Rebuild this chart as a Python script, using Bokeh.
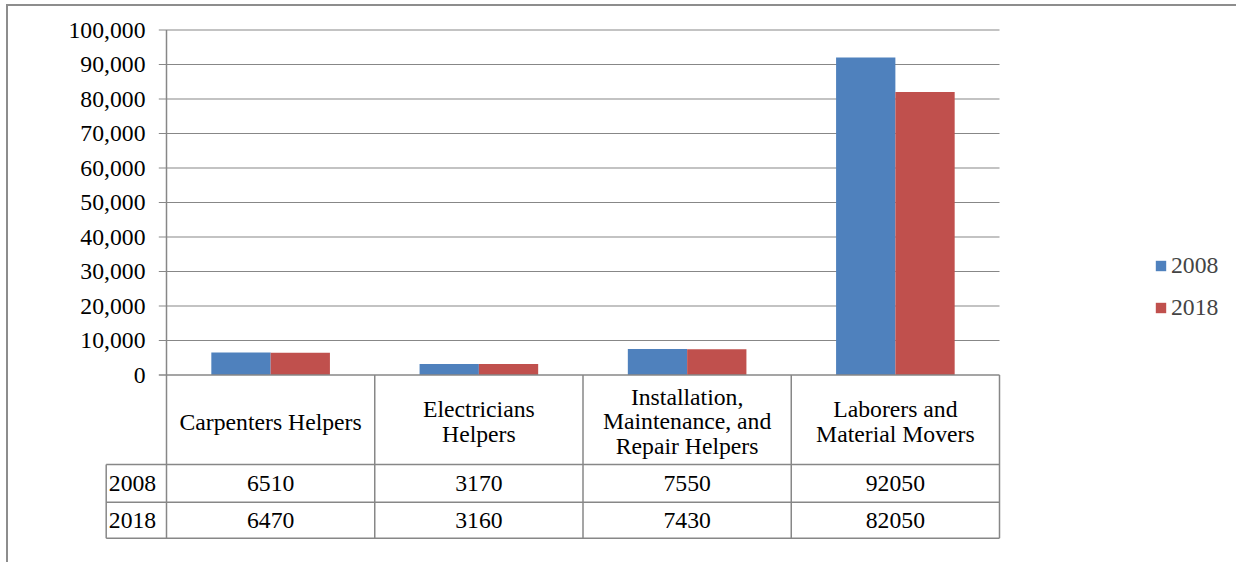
from bokeh.plotting import figure
from bokeh.models import Range1d, FixedTicker, NumeralTickFormatter, Legend, LegendItem
from bokeh.core.properties import value
from bokeh.embed import file_html
from bokeh.resources import INLINE

# ---- data ----
categories = ["Carpenters Helpers", "Electricians Helpers",
              "Installation, Maintenance, and Repair Helpers", "Laborers and Material Movers"]
category_labels = ["Carpenters Helpers", "Electricians\nHelpers",
                   "Installation,\nMaintenance, and\nRepair Helpers", "Laborers and\nMaterial Movers"]
series = ["2008", "2018"]
values_2008 = [6510, 3170, 7550, 92050]
values_2018 = [6470, 3160, 7430, 82050]
y_ticks = [0, 10000, 20000, 30000, 40000, 50000, 60000, 70000, 80000, 90000, 100000]

# ---- layout constants (pixels on the page) ----
W, H = 1230, 558
ORIGIN_X = 8         # page offset of canvas (6px margin + 2px border)
ORIGIN_Y = 6         # (4px margin + 2px border)
FRAME_LEFT = 103
X0 = 166.0           # x of value axis
CAT = 208.25         # width of one category
Y0 = 374.5           # y of zero line
PPU = 345.0 / 100000 # pixels per unit
BAR_W = 59.3 / CAT

def dx(px):
    return (px - X0) / CAT

def dy(py):
    return (Y0 - py) / PPU

BLUE = "#4F81BD"
RED = "#C0504D"
GRID = "#878787"
FONT = "Liberation Serif"
FS = "23.7px"

p = figure(width=W, height=H,
           x_range=Range1d(dx(FRAME_LEFT), dx(ORIGIN_X + W)),
           y_range=Range1d(dy(ORIGIN_Y + H), dy(ORIGIN_Y)),
           x_axis_location=None,
           min_border_left=FRAME_LEFT - ORIGIN_X, min_border_right=0,
           min_border_top=0, min_border_bottom=0,
           output_backend="svg", toolbar_location=None)
p.styles = {"border-top": "2px solid #8d8d8d", "border-left": "2px solid #8d8d8d",
            "margin-left": "6px", "margin-top": "4px"}
p.outline_line_color = None
p.xgrid.grid_line_color = None
p.ygrid.grid_line_color = None
p.background_fill_color = "white"
p.border_fill_color = "white"

ax = p.yaxis[0]
ax.ticker = FixedTicker(ticks=y_ticks)
ax.formatter = NumeralTickFormatter(format="0,0")
ax.axis_line_color = None
ax.major_tick_line_color = None
ax.minor_tick_line_color = None
ax.major_tick_out = 0
ax.major_tick_in = 0
ax.major_label_standoff = -(145 - FRAME_LEFT)
ax.major_label_text_font = FONT
ax.major_label_text_font_size = FS
ax.major_label_text_color = "black"

n = len(categories)
centers = [i + 0.5 for i in range(n)]
tick_x0 = dx(158.3)

# gridlines (non-zero)
gt = [t for t in y_ticks if t != 0]
p.segment(x0=[tick_x0] * len(gt), x1=[n] * len(gt), y0=gt, y1=gt,
          line_color=GRID, line_width=1)

# bars
r1 = p.vbar(x=[c - BAR_W / 2 for c in centers], top=values_2008, bottom=0, width=BAR_W,
            fill_color=BLUE, line_color=None)
r2 = p.vbar(x=[c + BAR_W / 2 for c in centers], top=values_2018, bottom=0, width=BAR_W,
            fill_color=RED, line_color=None)

# zero line & value axis line
p.segment(x0=[tick_x0], x1=[n], y0=[0], y1=[0], line_color=GRID, line_width=1.5)
table_bottom = dy(537.7)
row1_top = dy(464)
row2_top = dy(501.7)
table_left = dx(105.7)
p.segment(x0=[0], x1=[0], y0=[table_bottom], y1=[100000], line_color=GRID, line_width=1.5)

# data table grid
hy = [row1_top, row2_top, table_bottom]
p.segment(x0=[table_left] * 3, x1=[n] * 3, y0=hy, y1=hy, line_color=GRID, line_width=1.5)
vx = list(range(1, n + 1))
p.segment(x0=vx, x1=vx, y0=[table_bottom] * n, y1=[0] * n, line_color=GRID, line_width=1.5)
p.segment(x0=[table_left], x1=[table_left], y0=[table_bottom], y1=[row1_top],
          line_color=GRID, line_width=1.5)

# table texts
p.text(x=centers, y=[dy(421)] * n, text=category_labels, text_font=value(FONT),
       text_font_size=FS, text_align="center", text_baseline="middle",
       text_line_height=0.95, text_color="black")
row_y = [dy(482.9), dy(519.7)]
for vals, ry, name in zip([values_2008, values_2018], row_y, series):
    p.text(x=centers, y=[ry] * n, text=[str(v) for v in vals], text_font=value(FONT),
           text_font_size=FS, text_align="center", text_baseline="middle", text_color="black")
    p.text(x=[dx(108.3)], y=[ry], text=[name], text_font=value(FONT), text_font_size=FS,
           text_align="left", text_baseline="middle", text_color="black")

legend = Legend(items=[LegendItem(label=series[0], renderers=[r1]),
                       LegendItem(label=series[1], renderers=[r2])],
                location=(1154 - FRAME_LEFT, (ORIGIN_Y + H) - 320.5),
                label_text_font=FONT, label_text_font_size=FS,
                glyph_width=13, glyph_height=13, label_height=27,
                spacing=15, padding=0, margin=0, label_standoff=4,
                border_line_color=None, background_fill_alpha=0)
p.add_layout(legend)

open("out.html", "w").write(file_html(p, INLINE))
